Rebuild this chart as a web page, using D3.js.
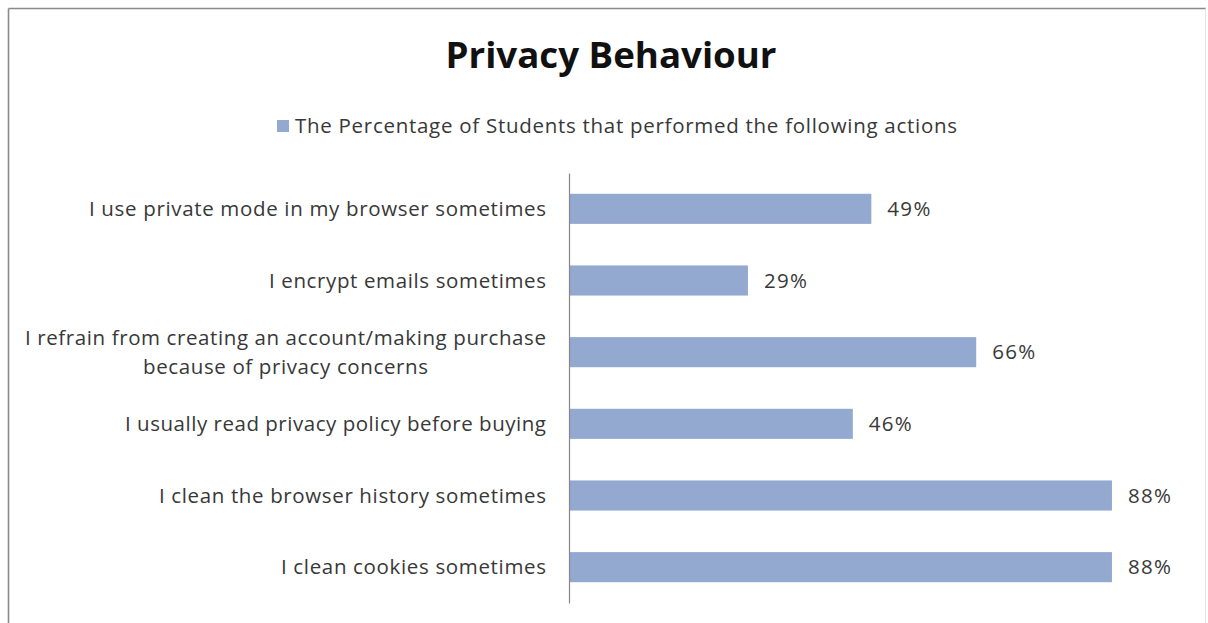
<!DOCTYPE html>
<html>
<head>
<meta charset="utf-8">
<script src="https://cdn.jsdelivr.net/npm/d3@7"></script>
<style>
  html, body { margin: 0; padding: 0; background: #ffffff; }
  svg { display: block; }
  text { font-family: "Open Sans", "Noto Sans", sans-serif; }
</style>
</head>
<body>
<svg id="chart" width="1208" height="623"></svg>
<script>
// Survey answers: share of students who perform each privacy action
const categories = [
  "I use private mode in my browser sometimes",
  "I encrypt emails sometimes",
  "I refrain from creating an account/making purchase because of privacy concerns",
  "I usually read privacy policy before buying",
  "I clean the browser history sometimes",
  "I clean cookies sometimes"
];
// Category labels as they are broken onto lines
const labelLines = [
  ["I use private mode in my browser sometimes"],
  ["I encrypt emails sometimes"],
  ["I refrain from creating an account/making purchase", "because of privacy concerns"],
  ["I usually read privacy policy before buying"],
  ["I clean the browser history sometimes"],
  ["I clean cookies sometimes"]
];
const percentages = [49, 29, 66, 46, 88, 88];
const seriesName = "The Percentage of Students that performed the following actions";
const chartTitle = "Privacy Behaviour";

const svg = d3.select("#chart");
const barColor = "#93a9d0";
const labelColor = "#383838";
const fontSize = 20.5;

// outer chart frame: strong top and left edges, faint right edge
svg.append("line")
  .attr("x1", 8.5).attr("y1", 8.5).attr("x2", 1206).attr("y2", 8.5)
  .attr("stroke", "#8a8a8a").attr("stroke-width", 1.6);
svg.append("line")
  .attr("x1", 8.5).attr("y1", 8.5).attr("x2", 8.5).attr("y2", 623)
  .attr("stroke", "#8a8a8a").attr("stroke-width", 1.6);
svg.append("line")
  .attr("x1", 1205.5).attr("y1", 8.5).attr("x2", 1205.5).attr("y2", 623)
  .attr("stroke", "#e4e4e4").attr("stroke-width", 1);

const plot = { left: 569, right: 1186, top: 173, bottom: 603 };

const x = d3.scaleLinear().domain([0, 100]).range([plot.left, plot.right]);
const y = d3.scaleBand().domain(categories)
  .range([plot.top, plot.bottom])
  .paddingInner(0.58).paddingOuter(0.29);

// title
svg.append("text")
  .attr("x", 611).attr("y", 68)
  .attr("text-anchor", "middle")
  .attr("font-size", 36).attr("font-weight", 700)
  .attr("fill", "#111111")
  .attr("textLength", 331).attr("lengthAdjust", "spacingAndGlyphs")
  .text(chartTitle);

// legend
svg.append("rect")
  .attr("x", 277).attr("y", 120)
  .attr("width", 12).attr("height", 12)
  .attr("fill", barColor);
svg.append("text")
  .attr("x", 295).attr("y", 133)
  .attr("font-size", fontSize)
  .attr("fill", labelColor)
  .attr("textLength", 662).attr("lengthAdjust", "spacing")
  .text(seriesName);

// bars
svg.append("g").selectAll("rect")
  .data(percentages)
  .join("rect")
  .attr("x", x(0))
  .attr("y", (d, i) => y(categories[i]))
  .attr("width", d => x(d) - x(0))
  .attr("height", y.bandwidth())
  .attr("fill", barColor);

// value labels
svg.append("g").selectAll("text")
  .data(percentages)
  .join("text")
  .attr("x", d => x(d) + 16)
  .attr("y", (d, i) => y(categories[i]) + y.bandwidth() / 2 + 7)
  .attr("font-size", fontSize)
  .attr("fill", labelColor)
  .attr("textLength", 43).attr("lengthAdjust", "spacing")
  .text(d => d + "%");

// category axis (line only, labels drawn below)
const axis = d3.axisLeft(y).tickSize(0).tickFormat("");
const axisG = svg.append("g")
  .attr("transform", `translate(${plot.left},0)`)
  .call(axis);
axisG.select(".domain").attr("stroke", "#888888").attr("stroke-width", 1.2);

// category labels: right-aligned block, wrapped lines centered within it
const labelWidths = [457, 277, [521, 285], 421, 387, 265];
const labelRight = 546;
const lineGap = 29;
labelLines.forEach((lines, i) => {
  const cy = y(categories[i]) + y.bandwidth() / 2;
  const widths = Array.isArray(labelWidths[i]) ? labelWidths[i] : [labelWidths[i]];
  const blockW = d3.max(widths);
  const cx = labelRight - blockW / 2;
  const firstBase = cy + 7 - (lines.length - 1) * lineGap / 2;
  lines.forEach((line, j) => {
    svg.append("text")
      .attr("x", cx)
      .attr("y", firstBase + j * lineGap)
      .attr("text-anchor", "middle")
      .attr("font-size", fontSize)
      .attr("fill", labelColor)
      .attr("textLength", widths[j]).attr("lengthAdjust", "spacing")
      .text(line);
  });
});
</script>
</body>
</html>
